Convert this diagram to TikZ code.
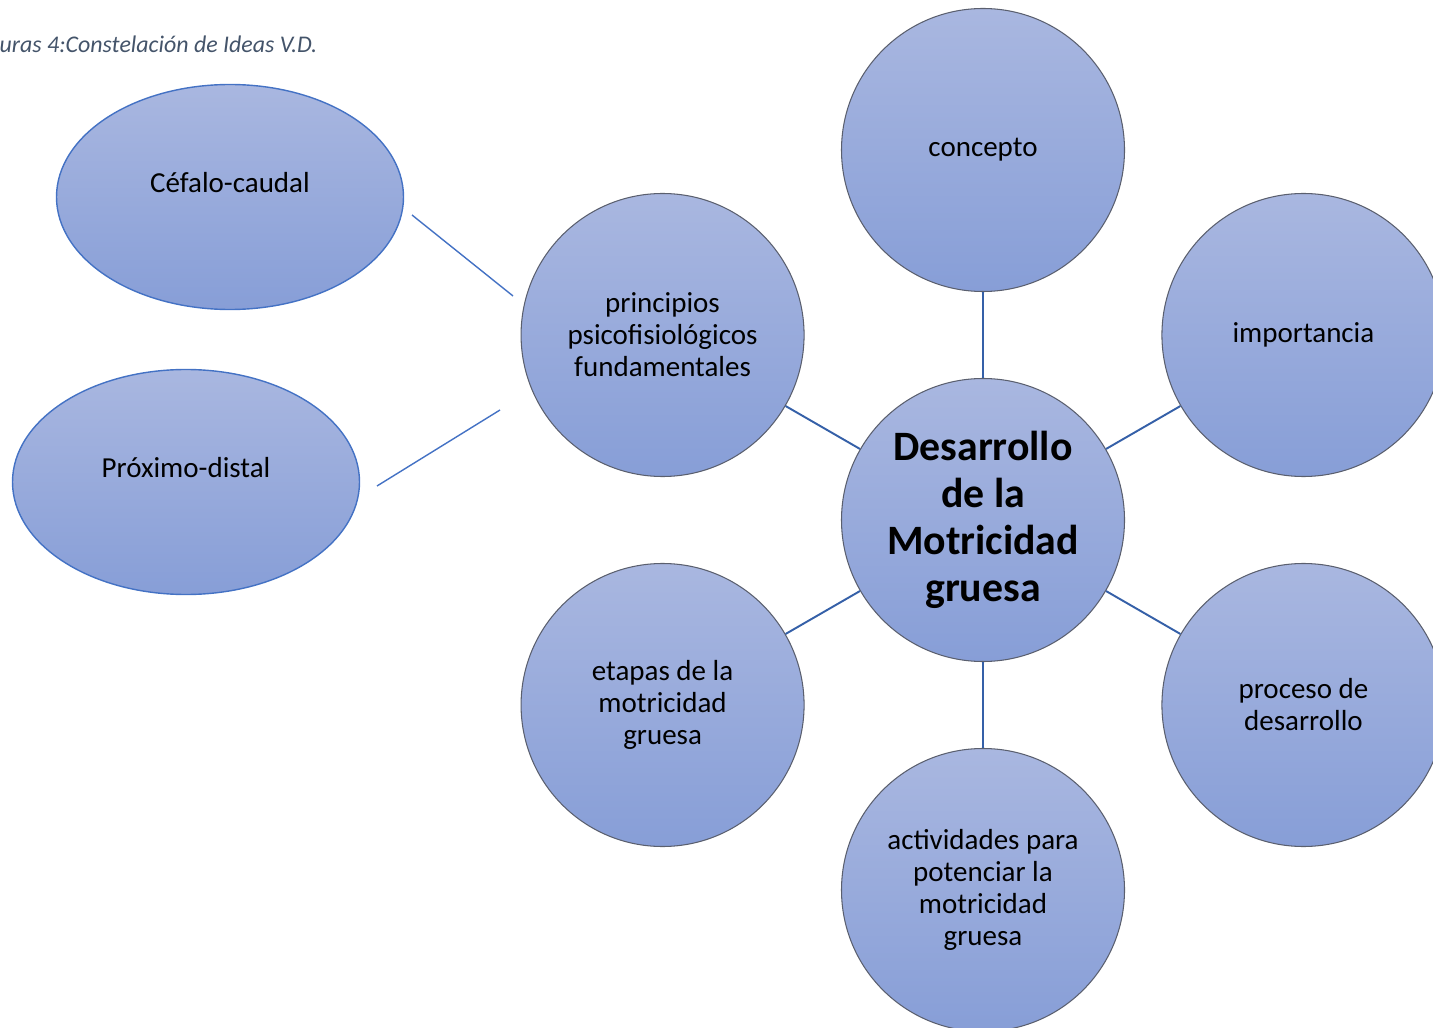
\documentclass[tikz,border=0pt]{standalone}
\usepackage{fontspec}
\setmainfont{Carlito}
\usetikzlibrary{calc,positioning,shapes.geometric}

\definecolor{circTop}{HTML}{A9B7E0}
\definecolor{circBot}{HTML}{879ED7}
\definecolor{circRim}{HTML}{5A5F6E}
\definecolor{lineBlue}{HTML}{3560A8}
\definecolor{elliRim}{HTML}{4472C4}
\definecolor{capGray}{HTML}{44546A}

\tikzset{
  idea/.style={circle, minimum size=5.66cm, inner sep=0pt, align=center,
    top color=circTop, bottom color=circBot, draw=circRim, line width=0.6pt,
    font=\fontsize{16.5}{18.2}\selectfont},
  ideaMain/.style={idea, font=\fontsize{23.8}{26.7}\selectfont\bfseries},
  ideaOval/.style={ellipse, minimum width=6.94cm, minimum height=4.5cm, inner sep=0pt,
    text depth=0.6cm,
    top color=circTop, bottom color=circBot, draw=elliRim, line width=0.8pt,
    font=\fontsize{16.5}{18.2}\selectfont},
  spoke/.style={draw=lineBlue, line width=1.1pt},
  twig/.style={draw=elliRim, line width=0.8pt}
}

\begin{document}
\begin{tikzpicture}
\useasboundingbox (0,0) rectangle (28.66,-20.56);

\node[anchor=base west, text=capGray, font=\fontsize{13.6}{15}\selectfont\itshape]
  (titulo) at (-0.13,-1.06) {uras 4:Constelación de Ideas V.D.};

%nodo central
\node[ideaMain] (centro) at (19.66,-10.40) {Desarrollo\\de la\\Motricidad\\gruesa};

\begin{scope}[shift={(centro)}]
\foreach \ang/\nom/\txt in {
    90/concepto/{concepto},
    30/importancia/{importancia},
    -30/proceso/{proceso de\\desarrollo},
    -90/actividades/{actividades para\\potenciar la\\motricidad\\gruesa},
    -150/etapas/{etapas de la\\motricidad\\gruesa},
    150/principios/{principios\\psicofisiológicos\\fundamentales}}
{
    %polar desde el centro
    \node[idea] (\nom) at (\ang:7.4) {\txt};
    \draw[spoke] (centro) -- (\nom);
}
\end{scope}

\node[ideaOval] (cefalo) at (4.60,-3.94) {Céfalo-caudal};
\node[ideaOval] (proximo) at (3.72,-9.64) {Próximo-distal};

\coordinate (cefaloEnd) at (8.24,-4.30);
\coordinate (cefaloPri) at (10.26,-5.92);
\coordinate (proximoEnd) at (7.54,-9.72);
\coordinate (proximoPri) at (10.00,-8.20);
\draw[twig] (cefaloEnd) -- (cefaloPri);
\draw[twig] (proximoEnd) -- (proximoPri);

\end{tikzpicture}
\end{document}
